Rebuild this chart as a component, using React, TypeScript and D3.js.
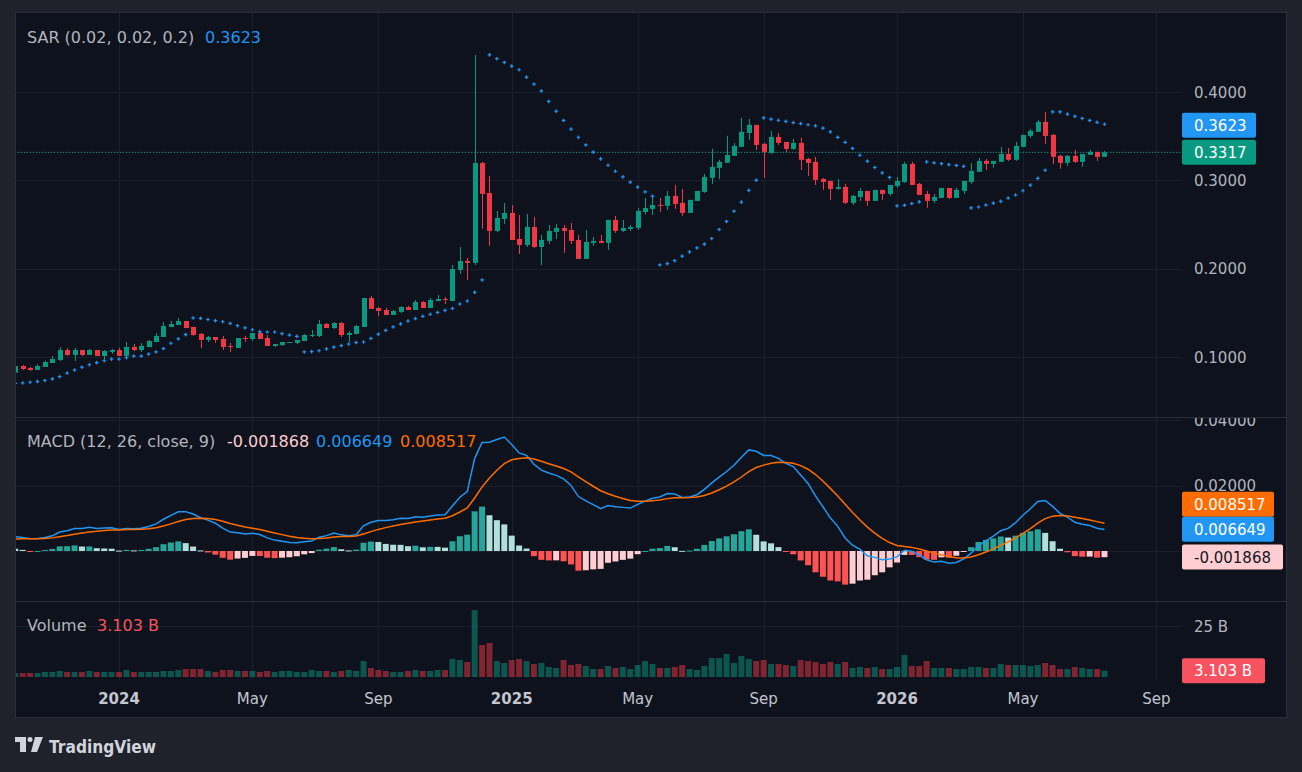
import React from "react";
import * as d3 from "d3";

const FONT = "'DejaVu Sans', sans-serif";

// weekly bars, first bar is the week of 2023-09-25
const firstWeek = new Date(Date.UTC(2023, 8, 25));

const opens = [
  0.0823, 0.0898, 0.0876, 0.0853, 0.0887, 0.0932, 0.0966, 0.1079, 0.1023, 0.1079, 0.1023, 0.1079, 0.1011, 0.1057,
  0.1079, 0.1011, 0.1113, 0.1079, 0.1113, 0.117, 0.1227, 0.134, 0.1362, 0.1408,
  0.134, 0.1261, 0.1193, 0.1227, 0.1204, 0.1125, 0.1102, 0.1215, 0.1204, 0.1272,
  0.1215, 0.1125, 0.1136, 0.1159, 0.1159, 0.1181, 0.1238, 0.1238, 0.1374, 0.1328,
  0.1385, 0.1249, 0.126, 0.134, 0.1668, 0.1555, 0.1532, 0.1476, 0.151, 0.1566,
  0.1532, 0.1623, 0.1555, 0.1634, 0.1657, 0.1634, 0.1985, 0.2087, 0.2065, 0.3197,
  0.2857, 0.2427, 0.2563, 0.2631, 0.2336, 0.2268, 0.2472, 0.2246, 0.2314, 0.2416,
  0.2461, 0.2438, 0.2325, 0.211, 0.2291, 0.2314, 0.2291, 0.2552, 0.2427, 0.245,
  0.2461, 0.2642, 0.2676, 0.2722, 0.2711, 0.2824, 0.2745, 0.2631, 0.2767, 0.2869,
  0.3028, 0.3141, 0.3198, 0.3277, 0.3379, 0.3537, 0.3628, 0.3413, 0.3311, 0.3492,
  0.3435, 0.3356, 0.3424, 0.3243, 0.3209, 0.3016, 0.2994, 0.2903, 0.2926, 0.2745,
  0.2812, 0.288, 0.2767, 0.2892, 0.2846, 0.2937, 0.2982, 0.3186, 0.296, 0.2846,
  0.2767, 0.2801, 0.2914, 0.2801, 0.288, 0.2982, 0.3096, 0.322, 0.3186, 0.3209,
  0.3299, 0.3232, 0.3379, 0.3503, 0.3549, 0.3662, 0.3515, 0.3277, 0.3198, 0.3277,
  0.3209, 0.3288, 0.3322, 0.3266,
];

const highs = [
  0.0905, 0.091, 0.0887, 0.0921, 0.0959, 0.1011, 0.1113, 0.1102, 0.1102, 0.1079, 0.1091, 0.1079, 0.1079, 0.1091,
  0.1102, 0.117, 0.1147, 0.1159, 0.1193, 0.1272, 0.1396, 0.1408, 0.1442, 0.1408,
  0.134, 0.1272, 0.1238, 0.1227, 0.1238, 0.1159, 0.1215, 0.1238, 0.1272, 0.1283,
  0.1249, 0.1147, 0.117, 0.117, 0.1193, 0.126, 0.1306, 0.1419, 0.1385, 0.1396,
  0.1396, 0.1294, 0.1362, 0.1668, 0.1691, 0.1566, 0.1555, 0.1532, 0.1578, 0.1578,
  0.1646, 0.1634, 0.1668, 0.1702, 0.1679, 0.2042, 0.2246, 0.2121, 0.442, 0.3208,
  0.305, 0.2653, 0.2744, 0.2721, 0.2608, 0.2619, 0.2585, 0.2382, 0.2495, 0.2506,
  0.2495, 0.2518, 0.2382, 0.2438, 0.2359, 0.2382, 0.2552, 0.2597, 0.2552, 0.2495,
  0.2687, 0.2801, 0.2812, 0.2801, 0.288, 0.2948, 0.2903, 0.2779, 0.288, 0.3073,
  0.3356, 0.3232, 0.3503, 0.3424, 0.3707, 0.3696, 0.3628, 0.3424, 0.356, 0.3537,
  0.3435, 0.3469, 0.3481, 0.3254, 0.3266, 0.3028, 0.2994, 0.3016, 0.296, 0.2835,
  0.2914, 0.288, 0.2892, 0.2892, 0.2948, 0.3039, 0.3209, 0.3209, 0.2971, 0.288,
  0.2846, 0.2914, 0.2914, 0.2914, 0.2994, 0.3198, 0.3254, 0.3243, 0.322, 0.3379,
  0.3367, 0.3435, 0.3515, 0.3583, 0.3684, 0.3775, 0.3526, 0.3288, 0.3288, 0.3345,
  0.3299, 0.3345, 0.3322, 0.3333,
];

const lows = [
  0.0815, 0.0853, 0.0842, 0.0853, 0.0887, 0.0932, 0.0955, 0.1011, 0.0955, 0.1011, 0.1023, 0.1011, 0.0977, 0.1034,
  0.1011, 0.1011, 0.1068, 0.1057, 0.1113, 0.117, 0.1227, 0.134, 0.1362, 0.1328,
  0.1238, 0.1102, 0.117, 0.1159, 0.1079, 0.1057, 0.1102, 0.117, 0.1181, 0.1204,
  0.1125, 0.1113, 0.1125, 0.1159, 0.1147, 0.1181, 0.1226, 0.1226, 0.1328, 0.1317,
  0.1226, 0.117, 0.126, 0.134, 0.1544, 0.1464, 0.1476, 0.1476, 0.1498, 0.1532,
  0.1532, 0.1555, 0.1555, 0.1634, 0.16, 0.1634, 0.194, 0.1872, 0.2042, 0.245,
  0.2257, 0.2416, 0.2506, 0.2325, 0.2166, 0.2246, 0.2234, 0.2042, 0.228, 0.2336,
  0.2178, 0.228, 0.211, 0.211, 0.2257, 0.2291, 0.2212, 0.2404, 0.2416, 0.2427,
  0.2438, 0.2615, 0.2608, 0.2643, 0.2665, 0.2677, 0.2597, 0.2631, 0.2767, 0.2858,
  0.296, 0.3016, 0.3198, 0.3277, 0.3379, 0.3458, 0.3345, 0.3028, 0.3299, 0.3401,
  0.3322, 0.3345, 0.3118, 0.305, 0.2948, 0.2892, 0.2779, 0.2892, 0.2733, 0.2722,
  0.2767, 0.2711, 0.2767, 0.2779, 0.2824, 0.2914, 0.2971, 0.2948, 0.2835, 0.2688,
  0.2745, 0.2801, 0.279, 0.2801, 0.2846, 0.296, 0.3096, 0.3118, 0.3141, 0.3209,
  0.322, 0.322, 0.3379, 0.3481, 0.3549, 0.3413, 0.3186, 0.313, 0.3164, 0.3198,
  0.3152, 0.3288, 0.322, 0.3266,
];

const closes = [
  0.0898, 0.0864, 0.0853, 0.0898, 0.0943, 0.0977, 0.1079, 0.1023, 0.1079, 0.1023, 0.1079, 0.1011, 0.1068, 0.1079,
  0.1011, 0.1113, 0.1079, 0.1125, 0.1181, 0.1238, 0.1351, 0.1374, 0.1408, 0.1328,
  0.1249, 0.1193, 0.1227, 0.1193, 0.1113, 0.1113, 0.1215, 0.1204, 0.1272, 0.1204,
  0.1125, 0.1147, 0.117, 0.117, 0.1193, 0.1249, 0.1249, 0.1374, 0.1328, 0.1385,
  0.1249, 0.1272, 0.1351, 0.1668, 0.1544, 0.1521, 0.1476, 0.1521, 0.1566, 0.1532,
  0.1623, 0.1555, 0.1646, 0.1657, 0.1646, 0.1997, 0.2087, 0.2065, 0.3197, 0.2846,
  0.2427, 0.2574, 0.2631, 0.2325, 0.2268, 0.2472, 0.2246, 0.2325, 0.2427, 0.2461,
  0.2427, 0.2314, 0.211, 0.2302, 0.2314, 0.2291, 0.2552, 0.2427, 0.2461, 0.2472,
  0.2653, 0.2687, 0.2721, 0.2711, 0.2824, 0.2733, 0.2631, 0.2779, 0.288, 0.3039,
  0.3152, 0.3209, 0.3288, 0.339, 0.3549, 0.3628, 0.3401, 0.3322, 0.3492, 0.3424,
  0.3356, 0.3424, 0.3232, 0.3198, 0.3005, 0.2982, 0.2903, 0.2926, 0.2745, 0.2824,
  0.288, 0.2767, 0.2892, 0.2846, 0.2948, 0.2994, 0.3186, 0.2948, 0.2835, 0.2767,
  0.2812, 0.2914, 0.2801, 0.2892, 0.2994, 0.3107, 0.322, 0.3186, 0.322, 0.3299,
  0.3232, 0.339, 0.3515, 0.356, 0.3662, 0.3503, 0.3266, 0.3198, 0.3277, 0.3209,
  0.3299, 0.3322, 0.3266, 0.3317,
];

// billions
const volumes = [
  1.96, 1.96, 1.96, 1.96, 2.45, 2.45, 2.94, 2.45, 2.45, 2.45, 2.94, 2.45, 2.45, 2.45,
  2.45, 3.43, 2.45, 2.45, 2.45, 2.45, 2.94, 2.94, 3.43, 3.92,
  3.92, 3.92, 2.94, 2.45, 3.43, 3.43, 2.94, 2.94, 2.94, 2.45,
  2.94, 2.45, 2.94, 2.94, 2.45, 2.45, 3.43, 2.94, 2.94, 2.45,
  2.94, 3.43, 2.94, 7.84, 4.41, 3.43, 2.94, 2.45, 2.45, 2.94,
  3.43, 2.94, 2.94, 3.43, 3.43, 8.82, 8.33, 7.35, 32.8, 15.7,
  16.7, 7.84, 6.86, 8.33, 8.82, 7.84, 6.37, 6.86, 4.9, 4.41,
  8.33, 5.88, 6.37, 5.39, 3.92, 3.92, 5.39, 4.41, 4.9, 3.92,
  5.88, 7.84, 6.37, 4.41, 4.41, 4.9, 5.88, 3.92, 3.43, 5.39,
  9.31, 9.31, 11.27, 6.86, 10.29, 8.82, 7.84, 8.33, 6.37, 6.37,
  5.88, 5.39, 8.33, 7.84, 7.35, 6.37, 7.35, 6.37, 7.35, 4.41,
  4.9, 4.41, 4.9, 3.92, 3.92, 4.9, 10.78, 5.39, 5.39, 7.84,
  4.41, 4.41, 4.41, 3.92, 3.92, 4.9, 4.9, 4.41, 4.41, 6.37,
  5.88, 5.88, 5.88, 5.39, 5.88, 6.86, 5.88, 3.92, 3.92, 4.9,
  4.41, 3.92, 3.92, 3.103,
];

// indicator state at the first visible bar
const sarInit = { value: 0.0702, ep: 0.0905, af: 0.02 };
const emaInit = { fast: 0.0858, slow: 0.0814, signal: 0.0037 };

const priceTicks = [0.1, 0.2, 0.3, 0.4];
const macdTicks = [0.02, 0.04];
const macdGrid = [0, 0.02, 0.04];
const volumeTicks = [25];

const lastSar = 0.3623;
const lastClose = 0.3317;
const lastMacd = 0.006649;
const lastSignal = 0.008517;
const lastHist = -0.001868;
const lastVolume = 3.103;

const UP = "#089981";
const DOWN = "#f23645";
const BLUE = "#2196f3";
const ORANGE = "#ff6d00";
const TEXT = "#b2b5be";
const GRID = "#1b1f2b";
const BORDER = "#2a2e39";

function parabolicSar(start: number, inc: number, max: number) {
  const out = [sarInit.value];
  let result = sarInit.value;
  let maxMin = sarInit.ep;
  let acc = sarInit.af;
  let isBelow = true;
  for (let i = 1; i < closes.length; i++) {
    let first = false;
    result = result + acc * (maxMin - result);
    if (isBelow) {
      if (result > lows[i]) {
        first = true;
        isBelow = false;
        result = Math.max(highs[i], maxMin);
        maxMin = lows[i];
        acc = start;
      }
    } else if (result < highs[i]) {
      first = true;
      isBelow = true;
      result = Math.min(lows[i], maxMin);
      maxMin = highs[i];
      acc = start;
    }
    if (!first) {
      if (isBelow) {
        if (highs[i] > maxMin) {
          maxMin = highs[i];
          acc = Math.min(acc + inc, max);
        }
      } else if (lows[i] < maxMin) {
        maxMin = lows[i];
        acc = Math.min(acc + inc, max);
      }
    }
    if (isBelow) {
      result = Math.min(result, lows[i - 1]);
      if (i > 1) result = Math.min(result, lows[i - 2]);
    } else {
      result = Math.max(result, highs[i - 1]);
      if (i > 1) result = Math.max(result, highs[i - 2]);
    }
    out.push(result);
  }
  return out;
}

function macdSeries() {
  let fast = emaInit.fast;
  let slow = emaInit.slow;
  let signal = emaInit.signal;
  const macd = [fast - slow];
  const sig = [signal];
  for (let i = 1; i < closes.length; i++) {
    fast += (2 / 13) * (closes[i] - fast);
    slow += (2 / 27) * (closes[i] - slow);
    const m = fast - slow;
    signal += (2 / 10) * (m - signal);
    macd.push(m);
    sig.push(signal);
  }
  return { macd, sig, hist: macd.map((m, i) => m - sig[i]) };
}

function stackLabels(items: { y: number }[], h: number) {
  const s = [...items].sort((a, b) => b.y - a.y);
  for (let k = 1; k < s.length; k++) {
    if (s[k].y > s[k - 1].y - h) s[k].y = s[k - 1].y - h;
  }
  return items;
}

export default function App() {
  const W = 1302;
  const H = 772;
  const plotLeft = 15;
  const plotRight = 1182;

  const x = d3.scaleLinear().domain([14, 119]).range([119, 897]);
  const yPrice = d3.scaleLinear().domain([0.1, 0.4]).range([357, 92]);
  const yMacd = d3.scaleLinear().domain([0, 0.02]).range([551, 485.7]);
  const yVol = d3.scaleLinear().domain([0, 25]).range([677, 626]);

  const sar = parabolicSar(0.02, 0.02, 0.2);
  const { macd, sig, hist } = macdSeries();

  // month ticks like TradingView: first weekly bar of Jan / May / Sep
  const ticks: { i: number; label: string; year: boolean }[] = [];
  for (let i = 1; i < 170; i++) {
    const d = d3.utcDay.offset(firstWeek, 7 * i);
    const p = d3.utcDay.offset(firstWeek, 7 * (i - 1));
    const m = d.getUTCMonth();
    if (m !== p.getUTCMonth() && (m === 0 || m === 4 || m === 8) && x(i) < plotRight - 10) {
      ticks.push({ i, label: m === 0 ? String(d.getUTCFullYear()) : d3.utcFormat("%b")(d), year: m === 0 });
    }
  }

  const macdLine = d3
    .line<number>()
    .x((_, i) => x(i))
    .y((d) => yMacd(d));

  const histColor = (i: number) => {
    const h = hist[i];
    const prev = i > 0 ? hist[i - 1] : h;
    if (h >= 0) return prev < h ? "#26a69a" : "#b2dfdb";
    return prev < h ? "#ffcdd2" : "#ff5252";
  };

  const priceLabels = stackLabels(
    [
      { y: yPrice(lastSar), text: lastSar.toFixed(4), fill: BLUE, color: "#fff" },
      { y: yPrice(lastClose), text: lastClose.toFixed(4), fill: UP, color: "#fff" },
    ],
    25
  );
  const macdLabels = stackLabels(
    [
      { y: yMacd(lastSignal), text: lastSignal.toFixed(6), fill: ORANGE, color: "#fff" },
      { y: yMacd(lastMacd), text: lastMacd.toFixed(6), fill: BLUE, color: "#fff" },
      { y: yMacd(lastHist), text: lastHist.toFixed(6), fill: "#ffcdd2", color: "#131722" },
    ],
    25
  );
  const volLabels = [{ y: yVol(lastVolume), text: `${lastVolume.toFixed(3)} B`, fill: "#f7525f", color: "#fff" }];

  const labelBox = (l: { y: number; text: string; fill: string; color: string }, k: string) => (
    <g key={k}>
      <rect x={plotRight} y={l.y - 12.5} width={20 + l.text.length * 9} height={25} rx={2} fill={l.fill} />
      <text x={plotRight + 12} y={l.y + 5.5} fontSize={15} fill={l.color} fontFamily={FONT}>
        {l.text}
      </text>
    </g>
  );

  return (
    <svg width={W} height={H} style={{ position: "absolute", left: 0, top: 0, display: "block" }}>
      <defs>
        <clipPath id="main">
          <rect x={plotLeft + 1} y={13} width={plotRight - plotLeft - 1} height={404} />
        </clipPath>
        <clipPath id="macd">
          <rect x={plotLeft + 1} y={418} width={plotRight - plotLeft - 1} height={183} />
        </clipPath>
        <clipPath id="macdAxis">
          <rect x={plotRight} y={418} width={110} height={183} />
        </clipPath>
        <clipPath id="vol">
          <rect x={plotLeft + 1} y={602} width={plotRight - plotLeft - 1} height={78} />
        </clipPath>
      </defs>

      <rect width={W} height={H} fill="#1f222b" />
      <rect x={15.5} y={12.5} width={1271} height={705} fill="#0e121c" stroke={BORDER} />

      {/* grid */}
      {ticks.map((t) => (
        <line key={`vg${t.i}`} x1={Math.round(x(t.i)) + 0.5} x2={Math.round(x(t.i)) + 0.5} y1={13} y2={680} stroke={GRID} />
      ))}
      {priceTicks.map((p) => (
        <line key={`pg${p}`} x1={plotLeft} x2={plotRight} y1={Math.round(yPrice(p)) + 0.5} y2={Math.round(yPrice(p)) + 0.5} stroke={GRID} />
      ))}
      {macdGrid.map((p) => (
        <line key={`mg${p}`} x1={plotLeft} x2={plotRight} y1={Math.round(yMacd(p)) + 0.5} y2={Math.round(yMacd(p)) + 0.5} stroke={GRID} />
      ))}
      {volumeTicks.map((v) => (
        <line key={`vvg${v}`} x1={plotLeft} x2={plotRight} y1={Math.round(yVol(v)) + 0.5} y2={Math.round(yVol(v)) + 0.5} stroke={GRID} />
      ))}
      <line x1={plotLeft} x2={1287} y1={417.5} y2={417.5} stroke={BORDER} />
      <line x1={plotLeft} x2={1287} y1={601.5} y2={601.5} stroke={BORDER} />

      {/* main pane */}
      <g clipPath="url(#main)">
        <line x1={plotLeft} x2={plotRight} y1={yPrice(lastClose)} y2={yPrice(lastClose)} stroke={UP} strokeDasharray="1.3 1.7" />
        {closes.map((c, i) => {
          const o = opens[i];
          const col = c >= o ? UP : DOWN;
          const cx = Math.round(x(i)) + 0.5;
          const top = yPrice(Math.max(o, c));
          const bot = yPrice(Math.min(o, c));
          return (
            <g key={`c${i}`}>
              <line x1={cx} x2={cx} y1={yPrice(highs[i])} y2={yPrice(lows[i])} stroke={col} />
              <rect x={cx - 2.5} y={top} width={5} height={Math.max(1, bot - top)} fill={col} />
            </g>
          );
        })}
        {sar.map((s, i) => {
          const cx = x(i);
          const cy = yPrice(s);
          return (
            <path key={`s${i}`} d={`M${cx - 1.8},${cy}H${cx + 1.8}M${cx},${cy - 1.8}V${cy + 1.8}`} stroke={BLUE} strokeWidth={1.2} />
          );
        })}
      </g>

      {/* macd pane */}
      <g clipPath="url(#macd)">
        {hist.map((h, i) => {
          const y0 = yMacd(0);
          const y1 = yMacd(h);
          return <rect key={`h${i}`} x={x(i) - 3} y={Math.min(y0, y1)} width={6} height={Math.max(1, Math.abs(y1 - y0))} fill={histColor(i)} />;
        })}
        <path d={macdLine(macd) || ""} fill="none" stroke={BLUE} strokeWidth={1.5} />
        <path d={macdLine(sig) || ""} fill="none" stroke={ORANGE} strokeWidth={1.5} />
      </g>

      {/* volume pane */}
      <g clipPath="url(#vol)">
        {volumes.map((v, i) => {
          const col = closes[i] >= opens[i] ? "rgba(8,153,129,0.5)" : "rgba(242,54,69,0.5)";
          return <rect key={`v${i}`} x={x(i) - 3} y={yVol(v)} width={6} height={yVol(0) - yVol(v)} fill={col} />;
        })}
      </g>

      {/* price axes */}
      {priceTicks.map((p) => (
        <text key={`pt${p}`} x={plotRight + 12} y={yPrice(p) + 5.5} fontSize={15} fill={TEXT} fontFamily={FONT}>
          {p.toFixed(4)}
        </text>
      ))}
      <g clipPath="url(#macdAxis)">
        {macdTicks.map((p) => (
          <text key={`mt${p}`} x={plotRight + 12} y={yMacd(p) + 5.5} fontSize={15} fill={TEXT} fontFamily={FONT}>
            {p.toFixed(5)}
          </text>
        ))}
      </g>
      {volumeTicks.map((v) => (
        <text key={`vt${v}`} x={plotRight + 12} y={yVol(v) + 5.5} fontSize={15} fill={TEXT} fontFamily={FONT}>
          {`${v} B`}
        </text>
      ))}
      {priceLabels.map((l, k) => labelBox(l as any, `pl${k}`))}
      {macdLabels.map((l, k) => labelBox(l as any, `ml${k}`))}
      {volLabels.map((l, k) => labelBox(l, `vl${k}`))}

      {/* time axis */}
      {ticks.map((t) => (
        <text
          key={`tt${t.i}`}
          x={x(t.i)}
          y={704}
          textAnchor="middle"
          fontSize={15}
          fontWeight={t.year ? "bold" : "normal"}
          fill="#c3c6ce"
          fontFamily={FONT}
        >
          {t.label}
        </text>
      ))}

      {/* legends */}
      <text x={27} y={42.5} fontSize={16} fontFamily={FONT} fill={TEXT}>
        SAR (0.02, 0.02, 0.2)
      </text>
      <text x={205} y={42.5} fontSize={16} fontFamily={FONT} fill={BLUE}>
        {lastSar.toFixed(4)}
      </text>
      <text x={27} y={446.5} fontSize={16} fontFamily={FONT} fill={TEXT}>
        MACD (12, 26, close, 9)
      </text>
      <text x={227} y={446.5} fontSize={16} fontFamily={FONT} fill="#ffcdd2">
        {lastHist.toFixed(6)}
      </text>
      <text x={316} y={446.5} fontSize={16} fontFamily={FONT} fill={BLUE}>
        {lastMacd.toFixed(6)}
      </text>
      <text x={400} y={446.5} fontSize={16} fontFamily={FONT} fill={ORANGE}>
        {lastSignal.toFixed(6)}
      </text>
      <text x={27} y={630.5} fontSize={16} fontFamily={FONT} fill={TEXT}>
        Volume
      </text>
      <text x={97} y={630.5} fontSize={16} fontFamily={FONT} fill="#f7525f">
        {`${lastVolume.toFixed(3)} B`}
      </text>

      {/* logo */}
      <g fill="#d1d4dc">
        <path d="M15,737H26V752H20V742H15Z" />
        <circle cx={30} cy={739.5} r={2.5} />
        <path d="M35,737H43L37,752H31Z" />
        <text x={49} y={753} fontSize={18} fontWeight="bold" fontFamily={FONT} textLength={107} lengthAdjust="spacingAndGlyphs">
          TradingView
        </text>
      </g>
    </svg>
  );
}
